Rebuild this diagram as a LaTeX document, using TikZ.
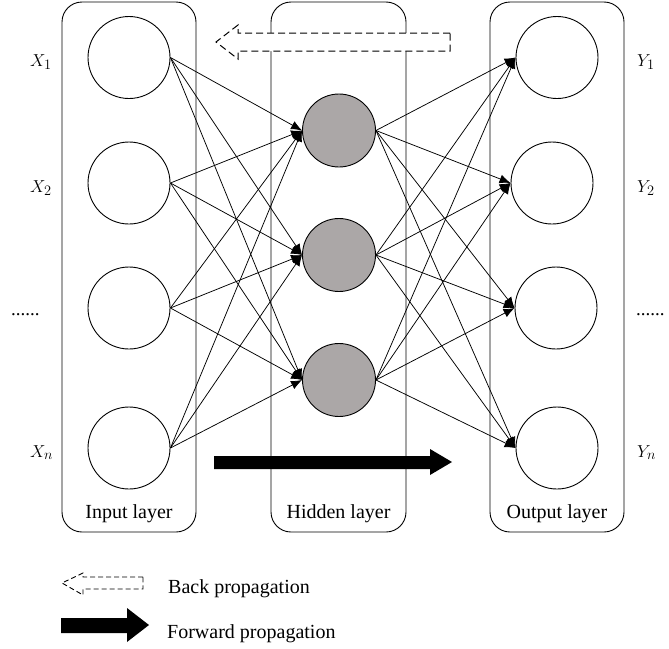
\documentclass[tikz,border=0pt]{standalone}
\usepackage{fontspec}
\setmainfont{Liberation Serif}
\usetikzlibrary{arrows.meta}
\tikzset{>={Latex[length=11pt,width=9pt]}}
\definecolor{hiddengray}{RGB}{171,167,167}

\begin{document}
\begin{tikzpicture}[x=1pt,y=-1pt,
    neuron/.style={circle,draw,line width=0.9pt,minimum size=82pt,inner sep=0pt},
    hiddenneuron/.style={circle,draw,line width=0.9pt,fill=hiddengray,minimum size=73pt,inner sep=0pt},
    layerbox/.style={draw,rounded corners=20pt,line width=0.9pt},
    link/.style={->,line width=0.75pt},
    txt/.style={font=\fontsize{20}{24}\selectfont,inner sep=0pt},
    lbl/.style={font=\fontsize{19}{23}\selectfont,inner sep=0pt}]
                \useasboundingbox (0,0) rectangle (669,648);

                % layer boxes
                \draw[layerbox] (62,2) rectangle (196,532);
                \draw[layerbox] (271,2) rectangle (406,532);
                \draw[layerbox] (490,2) rectangle (624,532);

                \node[neuron] (in1) at (129,57.5) {};
                \node[neuron] (in2) at (129,183) {};
                \node[neuron] (in3) at (129,308) {};
                \node[neuron] (in4) at (129,448) {};

                \node[hiddenneuron] (hid1) at (339,130.5) {};
                \node[hiddenneuron] (hid2) at (339,255) {};
                \node[hiddenneuron] (hid3) at (339,380) {};

                \node[neuron] (out1) at (557,57.5) {};
                \node[neuron] (out2) at (552,183) {};
                \node[neuron] (out3) at (556,308) {};
                \node[neuron] (out4) at (557,448) {};

                % input -> hidden
                \draw[link] (in1.east) -- (hid1.west);
                \draw[link] (in1.east) -- (hid2.west);
                \draw[link] (in1.east) -- (hid3.west);
                \draw[link] (in2.east) -- (hid1.west);
                \draw[link] (in2.east) -- (hid2.west);
                \draw[link] (in2.east) -- (hid3.west);
                \draw[link] (in3.east) -- (hid1.west);
                \draw[link] (in3.east) -- (hid2.west);
                \draw[link] (in3.east) -- (hid3.west);
                \draw[link] (in4.east) -- (hid1.west);
                \draw[link] (in4.east) -- (hid2.west);
                \draw[link] (in4.east) -- (hid3.west);

                % hidden -> output
                \draw[link] (hid1.east) -- (out1.west);
                \draw[link] (hid1.east) -- (out2.west);
                \draw[link] (hid1.east) -- (out3.west);
                \draw[link] (hid1.east) -- (out4.west);
                \draw[link] (hid2.east) -- (out1.west);
                \draw[link] (hid2.east) -- (out2.west);
                \draw[link] (hid2.east) -- (out3.west);
                \draw[link] (hid2.east) -- (out4.west);
                \draw[link] (hid3.east) -- (out1.west);
                \draw[link] (hid3.east) -- (out2.west);
                \draw[link] (hid3.east) -- (out3.west);
                \draw[link] (hid3.east) -- (out4.west);

                % back and forward arrows
                \draw[line width=1pt,dash pattern=on 7pt off 4pt,fill=white]
                    (450,33) -- (238,33) -- (238,25) -- (216,42) -- (238,59) -- (238,51) -- (450,51) -- cycle;
                \fill (214,456) -- (430,456) -- (430,449) -- (452,462) -- (430,475) -- (430,469) -- (214,469) -- cycle;

                \node[lbl,anchor=base west] (lx1) at (30,66) {$X_1$};
                \node[lbl,anchor=base west] (lx2) at (30,192) {$X_2$};
                \node[lbl,anchor=base west] (ldl) at (11,315) {......};
                \node[lbl,anchor=base west] (lxn) at (30,457) {$X_n$};

                \node[lbl,anchor=base west] (ly1) at (637,66) {$Y_1$};
                \node[lbl,anchor=base west] (ly2) at (637,192) {$Y_2$};
                \node[lbl,anchor=base west] (ldr) at (636,315) {......};
                \node[lbl,anchor=base west] (lyn) at (637,457) {$Y_n$};

                \node[txt,anchor=base] (lin) at (129,518) {Input layer};
                \node[txt,anchor=base] (lhid) at (338.5,518) {Hidden layer};
                \node[txt,anchor=base] (lout) at (557,518) {Output layer};

                % legend
                \draw[line width=0.9pt,dash pattern=on 5pt off 3pt]
                    (143,577) -- (83,577) -- (83,573) -- (62,583) -- (83,595) -- (83,589) -- (143,589) -- cycle;
                \node[txt,anchor=base west] (lback) at (168,593) {Back propagation};
                \fill (61,618) -- (127,618) -- (127,608) -- (149,625) -- (127,642) -- (127,633) -- (61,633) -- cycle;
                \node[txt,anchor=base west] (lfwd) at (167,638) {Forward propagation};

            \end{tikzpicture}
\end{document}
